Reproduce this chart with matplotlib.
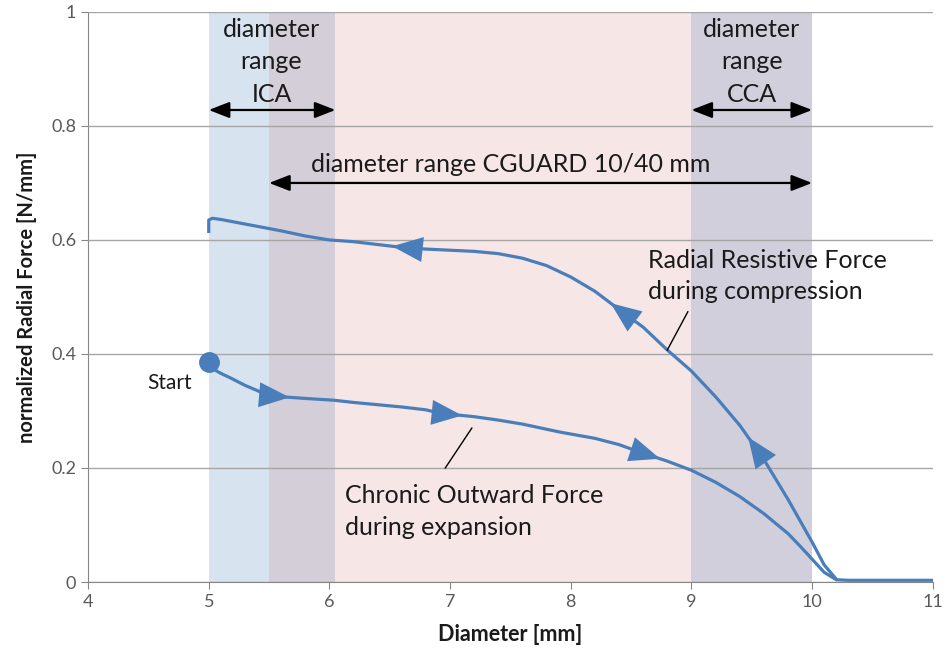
import numpy as np
import matplotlib
matplotlib.use('Agg')
import matplotlib.pyplot as plt
from matplotlib.patches import ArrowStyle

plt.rcParams['font.family'] = ['Lato', 'DejaVu Sans']

# expansion curve (Chronic Outward Force)
x_cof = [5.0, 5.05, 5.1, 5.18, 5.3, 5.4, 5.48, 5.6, 5.8, 6.03, 6.2, 6.4, 6.6, 6.8, 6.92,
         7.2, 7.4, 7.6, 7.91, 8.2, 8.4, 8.57, 8.8, 9.0, 9.2, 9.4, 9.6, 9.8, 9.9, 10.0,
         10.1, 10.2, 10.3, 10.6, 11.0]
y_cof = [0.386, 0.372, 0.366, 0.358, 0.345, 0.336, 0.328, 0.325, 0.322, 0.319, 0.315, 0.311,
         0.307, 0.302, 0.296, 0.29, 0.284, 0.277, 0.263, 0.252, 0.241, 0.228, 0.212, 0.196,
         0.175, 0.15, 0.12, 0.085, 0.063, 0.04, 0.017, 0.004, 0.003, 0.003, 0.003]

# compression curve (Radial Resistive Force)
x_rrf = [5.0, 5.0, 5.03, 5.1, 5.2, 5.4, 5.6, 5.8, 6.0, 6.2, 6.4, 6.6, 6.8, 7.0, 7.2, 7.4,
         7.6, 7.8, 8.0, 8.2, 8.4, 8.6, 8.8, 9.0, 9.2, 9.4, 9.6, 9.8, 10.0, 10.1, 10.2]
y_rrf = [0.615, 0.635, 0.638, 0.636, 0.632, 0.624, 0.616, 0.607, 0.6, 0.597, 0.592, 0.587,
         0.584, 0.582, 0.58, 0.576, 0.568, 0.555, 0.535, 0.51, 0.478, 0.447, 0.407, 0.37,
         0.325, 0.275, 0.215, 0.145, 0.07, 0.03, 0.005]

# arrow tips along curves (x)
arrows_cof = [5.67, 7.1, 8.74]
arrows_rrf = [6.52, 8.33, 9.47]

ica_range = (5.0, 6.05)
cca_range = (9.0, 10.0)
cguard_range = (5.5, 10.0)

line_col = '#4a7ebb'
blue_span = '#4F81BD'
red_span = '#C0504D'
txt_col = '#1a1a1a'

fig = plt.figure(figsize=(9.47, 6.56), dpi=100)
ax = fig.add_axes([0.093, 0.1128, 0.892, 0.869])

ax.set_xlim(4, 11)
ax.set_ylim(0, 1)

# shaded ranges
ax.axvspan(*ica_range, color=blue_span, alpha=0.22, lw=0, zorder=0)
ax.axvspan(*cguard_range, color=red_span, alpha=0.14, lw=0, zorder=0)
ax.axvspan(*cca_range, color=blue_span, alpha=0.22, lw=0, zorder=0)

ax.set_yticks(np.arange(0, 1.01, 0.2))
ax.set_yticklabels(['0', '0.2', '0.4', '0.6', '0.8', '1'])
ax.set_xticks(range(4, 12))
ax.yaxis.grid(True, color='#a6a6a6', lw=1.0, zorder=1)
ax.set_axisbelow(False)
for s in ['top', 'right']:
    ax.spines[s].set_visible(False)
for s in ['left', 'bottom']:
    ax.spines[s].set_color('#868686')
ax.tick_params(colors='#868686', labelcolor='#595959', labelsize=13, length=5)
ax.set_xlabel('Diameter [mm]', fontsize=15.5, fontweight='bold', labelpad=10, color=txt_col)
ax.set_ylabel('normalized Radial Force [N/mm]', fontsize=14.5, fontweight='bold', labelpad=10,
              color=txt_col)

ax.plot(x_cof, y_cof, color=line_col, lw=2.3, zorder=3)
ax.plot(x_rrf, y_rrf, color=line_col, lw=2.3, zorder=3)
ax.plot(x_cof[0], y_cof[0], 'o', color=line_col, ms=14, zorder=4)

style = ArrowStyle('-|>', head_length=1.1, head_width=0.45)
for xt in arrows_cof:
    xb = xt - 0.1
    ax.annotate('', xy=(xt, np.interp(xt, x_cof, y_cof)), xytext=(xb, np.interp(xb, x_cof, y_cof)),
                arrowprops=dict(arrowstyle=style, color=line_col, lw=0, mutation_scale=20,
                                shrinkA=0, shrinkB=0), zorder=5)
for xt in arrows_rrf:
    xb = xt + 0.1
    ax.annotate('', xy=(xt, np.interp(xt, x_rrf, y_rrf)), xytext=(xb, np.interp(xb, x_rrf, y_rrf)),
                arrowprops=dict(arrowstyle=style, color=line_col, lw=0, mutation_scale=20,
                                shrinkA=0, shrinkB=0), zorder=5)

# range double arrows
dstyle = ArrowStyle('<|-|>', head_length=0.9, head_width=0.35)
for rng, yy in [(ica_range, 0.828), (cca_range, 0.828), (cguard_range, 0.700)]:
    ax.annotate('', xy=(rng[0], yy), xytext=(rng[1], yy),
                arrowprops=dict(arrowstyle=dstyle, color='black', lw=1.6, mutation_scale=14,
                                shrinkA=0, shrinkB=0), zorder=6)

ax.text(5.52, 0.913, 'diameter\nrange\nICA', ha='center', va='center', fontsize=18,
        linespacing=1.5, color=txt_col)
ax.text(9.5, 0.913, 'diameter\nrange\nCCA', ha='center', va='center', fontsize=18,
        linespacing=1.5, color=txt_col)
ax.text(7.5, 0.733, 'diameter range CGUARD 10/40 mm', ha='center', va='center', fontsize=18,
        color=txt_col)
ax.text(8.64, 0.537, 'Radial Resistive Force\nduring compression', ha='left', va='center',
        fontsize=18, linespacing=1.45, color=txt_col)
ax.text(6.13, 0.124, 'Chronic Outward Force\nduring expansion', ha='left', va='center',
        fontsize=18, linespacing=1.45, color=txt_col)
ax.text(4.86, 0.349, 'Start', ha='right', va='center', fontsize=15, color=txt_col)

ax.plot([8.80, 8.97], [0.407, 0.474], color='black', lw=1.0, zorder=6)
ax.plot([6.96, 7.18], [0.2, 0.27], color='black', lw=1.0, zorder=6)

fig.savefig('out.png', dpi=100)
